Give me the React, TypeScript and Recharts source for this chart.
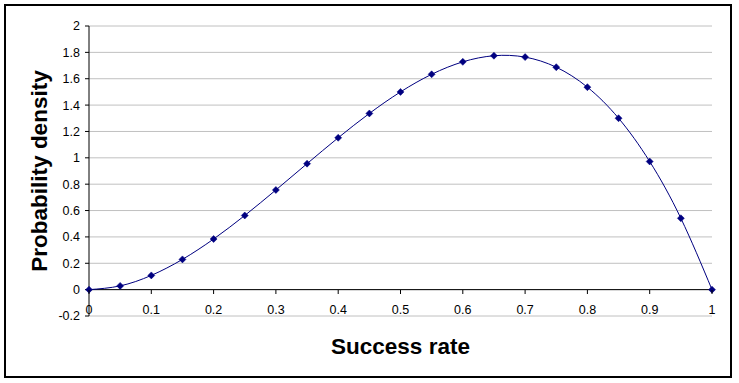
import { CartesianGrid, Label, Line, LineChart, ReferenceLine, XAxis, YAxis } from 'recharts'

const rates = [0, 0.05, 0.1, 0.15, 0.2, 0.25, 0.3, 0.35, 0.4, 0.45, 0.5, 0.55, 0.6, 0.65, 0.7, 0.75, 0.8, 0.85, 0.9, 0.95, 1]
const densities = [
  0, 0.0285, 0.108, 0.2295, 0.384, 0.5625, 0.756, 0.9555, 1.152, 1.3365, 1.5, 1.6335, 1.728, 1.7745, 1.764, 1.6875,
  1.536, 1.3005, 0.972, 0.5415, 0,
]
const xTicks = [0, 0.1, 0.2, 0.3, 0.4, 0.5, 0.6, 0.7, 0.8, 0.9, 1]
const yTicks = [-0.2, 0, 0.2, 0.4, 0.6, 0.8, 1, 1.2, 1.4, 1.6, 1.8, 2]

const data = rates.map((r, i) => ({ rate: r, density: densities[i] }))

const FONT = "Arial, 'Liberation Sans', sans-serif"
const NAVY = '#000080'

const Diamond = ({ cx, cy, index }: any) => {
  if (cx == null || cy == null) return null
  const s = 3.5
  return (
    <polygon
      key={`d-${index}`}
      points={`${cx},${cy - s} ${cx + s},${cy} ${cx},${cy + s} ${cx - s},${cy}`}
      fill={NAVY}
      stroke={NAVY}
      strokeWidth={0.5}
    />
  )
}

const XTick = ({ x, y, payload }: any) => (
  <g>
    <line x1={x} x2={x} y1={y - 26} y2={y - 22} stroke='#000' />
    <text x={x} y={y - 2} textAnchor='middle' fontSize={12.5} fontFamily={FONT} fill='#000'>
      {payload.value}
    </text>
  </g>
)

const YTitle = ({ viewBox }: any) => {
  const cx = viewBox.x + 39
  const cy = viewBox.y + viewBox.height / 2
  return (
    <text
      x={cx}
      y={cy}
      transform={`rotate(-90 ${cx} ${cy})`}
      textAnchor='middle'
      dominantBaseline='central'
      fontSize={22.5}
      fontWeight='bold'
      fontFamily={FONT}
      fill='#000'
    >
      Probability density
    </text>
  )
}

const XTitle = ({ viewBox }: any) => (
  <text
    x={viewBox.x + viewBox.width / 2}
    y={viewBox.y + 38}
    textAnchor='middle'
    fontSize={22.5}
    fontWeight='bold'
    fontFamily={FONT}
    fill='#000'
  >
    Success rate
  </text>
)

const App = () => {
  return (
    <div style={{ position: 'absolute', left: 0, top: 0, width: 739, height: 383, background: '#fff' }}>
      <div
        style={{
          position: 'absolute',
          left: 4,
          top: 4,
          width: 728,
          height: 374,
          border: '2px solid #000',
          boxSizing: 'border-box',
        }}
      />
      <LineChart width={739} height={383} data={data} margin={{ top: 26, right: 27, left: 0, bottom: 0 }}>
        <CartesianGrid vertical={false} stroke='#c0c0c0' strokeDasharray='' />
        <XAxis
          dataKey='rate'
          type='number'
          domain={[0, 1]}
          ticks={xTicks}
          height={67}
          axisLine={false}
          tickLine={false}
          tickSize={0}
          tickMargin={0}
          tick={<XTick />}
          interval={0}
        >
          <Label content={<XTitle />} />
        </XAxis>
        <YAxis
          type='number'
          domain={[-0.2, 2]}
          ticks={yTicks}
          width={89}
          interval={0}
          axisLine={{ stroke: '#000' }}
          tickLine={{ stroke: '#000' }}
          tickSize={4}
          tickMargin={5}
          tick={{ fontSize: 12.5, fontFamily: FONT, fill: '#000' }}
        >
          <Label content={<YTitle />} />
        </YAxis>
        <ReferenceLine y={0} stroke='#000' />
        <Line
          type='natural'
          dataKey='density'
          stroke={NAVY}
          strokeWidth={1}
          dot={Diamond}
          activeDot={false}
          isAnimationActive={false}
        />
      </LineChart>
    </div>
  )
}

export default App
